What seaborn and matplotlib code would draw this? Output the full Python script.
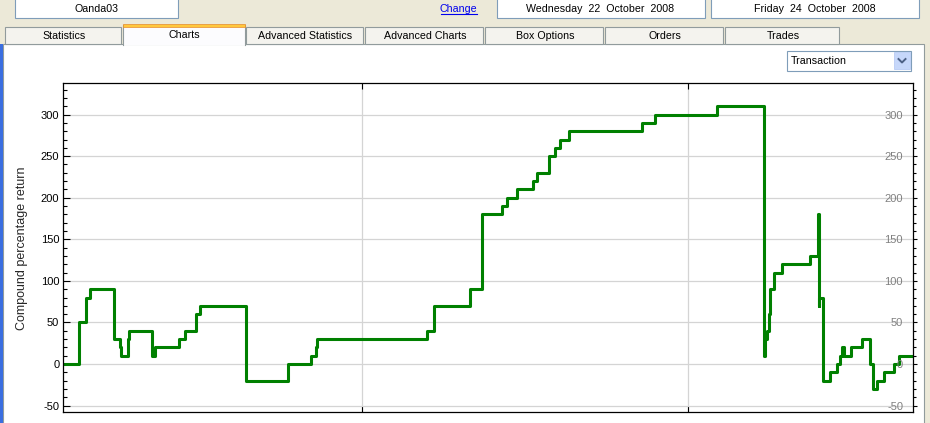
import matplotlib
matplotlib.use("Agg")
import matplotlib.pyplot as plt
import seaborn as sns
from matplotlib.patches import Rectangle
from matplotlib.ticker import MultipleLocator

# hours since Wed 22 Oct 2008 00:00 at which the curve steps to a new value
hours = [1.99, 3.14, 3.68, 4.00, 5.74, 6.18, 6.25, 6.77, 6.87, 8.54, 8.76,
         10.55, 10.95, 11.76, 12.07, 15.46, 18.53, 20.22, 20.61, 20.71,
         28.76, 29.32, 31.95, 32.83, 34.34, 34.66, 35.40, 36.57, 36.90,
         37.74, 38.19, 38.56, 39.24, 44.58, 45.56, 50.13,
         53.58, 53.67, 53.80, 53.95, 54.05, 54.33, 54.92, 56.97, 57.57,
         57.61, 57.67, 57.92, 58.47, 58.97, 59.19, 59.36, 59.45, 60.00,
         60.81, 61.38, 61.60, 61.90, 62.43, 63.15, 63.55, 64.56]
# compound percentage return after each step
returns = [0, 50, 80, 90, 30, 20, 10, 30, 40, 10, 20,
           30, 40, 60, 70, -20, 0, 10, 20, 30,
           40, 70, 90, 180, 190, 200, 210, 220, 230,
           250, 260, 270, 280, 290, 300, 310,
           10, 30, 40, 60, 90, 110, 120, 130, 180,
           70, 80, -20, -10, 0, 10, 20, 10, 20,
           30, 0, -30, -20, -10, 0, 10, 10]

y_ticks = [-50, 0, 50, 100, 150, 200, 250, 300]
day_marks = [24, 48]  # midnight Thursday / Friday

account = "Oanda03"
date_from = "Wednesday  22  October  2008"
date_to = "Friday  24  October  2008"
tabs = ["Statistics", "Charts", "Advanced Statistics", "Advanced Charts",
        "Box Options", "Orders", "Trades"]
active_tab = "Charts"
view_choice = "Transaction"
y_title = "Compound percentage return"

# layout of the window (pixels)
W, H = 930, 423
tab_edges = [5, 123, 246, 365, 485, 605, 725, 841]
UI_FONT = ["Liberation Sans", "DejaVu Sans"]
BEIGE = "#ECE9D8"
BOX_EDGE = "#7F9DB9"
TAB_EDGE = "#919B9C"

fig = plt.figure(figsize=(W / 100, H / 100), dpi=100, facecolor=BEIGE)

# window chrome drawn in pixel coordinates
bg = fig.add_axes([0, 0, 1, 1])
bg.set_xlim(0, W)
bg.set_ylim(H, 0)
bg.axis("off")


def box(x0, y0, x1, y1, fc, ec=None, lw=0.8, z=1):
    bg.add_patch(Rectangle((x0, y0), x1 - x0, y1 - y0, facecolor=fc,
                           edgecolor=ec if ec else "none", linewidth=lw, zorder=z))


def label(x, y, s, size=7.7, color="black", ha="center"):
    bg.text(x, y, s, ha=ha, va="center", fontsize=size, color=color,
            family=UI_FONT, zorder=5)


# top row: account box, link and the two dates
box(15, -2, 178, 18.5, "white", BOX_EDGE)
label(96.5, 9, account)
label(458.5, 9, "Change", color="#0000EE")
bg.plot([440.5, 477], [14.2, 14.2], color="#0000EE", lw=0.8, zorder=5)
box(496.5, -2, 704.5, 18.5, "white", BOX_EDGE)
label(600.5, 9, date_from)
box(710.5, -2, 919, 18.5, "white", BOX_EDGE)
label(815, 9, date_to)

# main panel
box(2.5, 44, 924, H + 2, "white", TAB_EDGE)
box(0, 44, 2.5, H, "#3A6EE0", z=2)

# tabs
for name, x0, x1 in zip(tabs, tab_edges[:-1], tab_edges[1:]):
    if name == active_tab:
        box(x0, 25, x1 - 1, 45.5, "#FCFCFE", z=3)
        bg.plot([x0, x0, x1 - 1, x1 - 1], [45, 25, 25, 45],
                color=TAB_EDGE, lw=0.8, zorder=3)
        box(x0, 24, x1 - 1, 27, "#FFC83C", "#E68B2C", lw=0.5, z=4)
        label((x0 + x1) / 2, 34.6, name)
    else:
        box(x0, 27, x1 - 2, 44, "#F4F3EE", TAB_EDGE, z=2)
        label((x0 + x1) / 2, 36, name)

# drop-down
box(786.5, 51, 910.5, 71, "white", BOX_EDGE, z=2)
box(894, 52.5, 909.5, 69.5, "#C6D7FA", "#B1C6F2", lw=0.5, z=3)
bg.plot([898.5, 902, 905.5], [59, 62.5, 59], color="#4D6185", lw=1.4, zorder=4)
label(790.5, 61.5, view_choice, ha="left")

# chart
sns.set_style("white")
plt.rcParams["font.family"] = ["Liberation Sans", "DejaVu Sans"]
plt.rcParams["axes.unicode_minus"] = False

ax = fig.add_axes([63 / W, (H - 412.3) / H, 850 / W, 329 / H])
ax.set_facecolor("white")
sns.lineplot(x=hours, y=returns, ax=ax, drawstyle="steps-post",
             color="#008000", linewidth=2.2, estimator=None)

ax.set_xlim(hours[0], hours[-1])
ax.set_ylim(-58, 337.6)
ax.set_xticks(day_marks)
ax.set_xticklabels([])
ax.set_yticks(y_ticks)
ax.yaxis.set_minor_locator(MultipleLocator(10))
ax.grid(True, which="major", color="#D4D4D4", linewidth=0.9)
ax.set_axisbelow(True)
for sp in ax.spines.values():
    sp.set_color("black")
    sp.set_linewidth(0.9)

ax.tick_params(axis="x", which="major", direction="in", length=4.5,
               width=0.8, top=True, bottom=True, color="black")
ax.tick_params(axis="y", which="major", direction="in", length=5, width=0.8,
               pad=2.7, labelsize=8, labelcolor="black", color="black")
ax.tick_params(axis="y", which="minor", direction="in", length=3, width=0.8,
               color="black")
ax.set_ylabel(y_title, fontsize=9, labelpad=9)
ax.set_xlabel("")

# right hand scale, grey labels drawn inside the plot
ax2 = ax.twinx()
ax2.set_ylim(ax.get_ylim())
ax2.set_yticks(y_ticks)
ax2.yaxis.set_minor_locator(MultipleLocator(10))
ax2.tick_params(axis="y", which="major", direction="out", length=3,
                width=0.8, pad=-10.2, labelsize=8, labelcolor="#808080",
                color="black")
ax2.tick_params(axis="y", which="minor", direction="out", length=2,
                width=0.8, color="black")
plt.setp(ax2.get_yticklabels(), ha="right")
for sp in ax2.spines.values():
    sp.set_visible(False)

fig.savefig("out.png", dpi=100, facecolor=BEIGE)
